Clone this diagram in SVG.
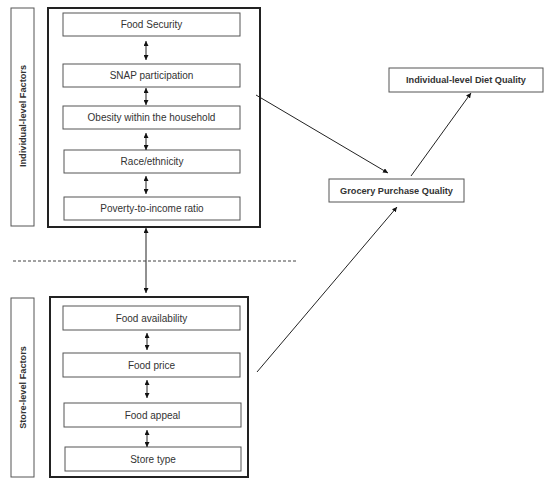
<svg xmlns="http://www.w3.org/2000/svg" width="550" height="487" viewBox="0 0 550 487">
<defs>
<marker id="ah" viewBox="0 0 10 10" refX="10" refY="5" markerWidth="5" markerHeight="5" orient="auto-start-reverse" markerUnits="userSpaceOnUse">
<path d="M0,0 L10,5 L0,10 z" fill="#111"/>
</marker>
<style>
.box{fill:#fff;stroke:#555;stroke-width:1}
.outer{fill:#fff;stroke:#222;stroke-width:2}
.t{font-family:"Liberation Sans",Arial,sans-serif;font-size:10px;fill:#333;text-anchor:middle;dominant-baseline:central}
.b{font-weight:bold;font-size:9.2px}
.c{stroke:#222;stroke-width:1;fill:none}
.dbl{marker-start:url(#ah);marker-end:url(#ah)}
.one{marker-end:url(#ah)}
</style>
</defs>
<rect width="550" height="487" fill="#fff"/>
<g id="individual-label"><rect class="box" x="11" y="8" width="23" height="218"/><text class="t b" transform="translate(22.5,116) rotate(-90)">Individual-level Factors</text></g>
<g id="individual-group"><rect class="outer" x="48" y="8" width="212" height="219"/></g>
<g id="food-security"><rect class="box" x="63" y="13" width="177" height="23"/><text class="t" x="151.5" y="24.5">Food Security</text></g>
<g id="snap"><rect class="box" x="63" y="64" width="177" height="23"/><text class="t" x="151.5" y="75.5">SNAP participation</text></g>
<g id="obesity"><rect class="box" x="63" y="106" width="177" height="23"/><text class="t" x="151.5" y="117.5">Obesity within the household</text></g>
<g id="race"><rect class="box" x="64" y="150" width="176" height="23"/><text class="t" x="152" y="161.5">Race/ethnicity</text></g>
<g id="poverty"><rect class="box" x="64" y="197" width="176" height="23"/><text class="t" x="152" y="208.5">Poverty-to-income ratio</text></g>
<g id="store-label"><rect class="box" x="11" y="298" width="23" height="179"/><text class="t b" transform="translate(22.5,387.5) rotate(-90)">Store-level Factors</text></g>
<g id="store-group"><rect class="outer" x="50" y="297" width="198" height="180"/></g>
<g id="food-availability"><rect class="box" x="63" y="306" width="177" height="24"/><text class="t" x="151.5" y="318">Food availability</text></g>
<g id="food-price"><rect class="box" x="63" y="353" width="177" height="24"/><text class="t" x="151.5" y="365">Food price</text></g>
<g id="food-appeal"><rect class="box" x="64" y="403" width="177" height="24"/><text class="t" x="152.5" y="415">Food appeal</text></g>
<g id="store-type"><rect class="box" x="65" y="447" width="176" height="24"/><text class="t" x="153" y="459">Store type</text></g>
<g id="grocery"><rect class="box" x="329" y="179" width="135" height="23"/><text class="t b" x="396.5" y="190.5">Grocery Purchase Quality</text></g>
<g id="diet"><rect class="box" x="389" y="68" width="154" height="24"/><text class="t b" x="466" y="80">Individual-level Diet Quality</text></g>
<g id="connectors">
<line class="c dbl" x1="146" y1="41" x2="146" y2="60"/>
<line class="c dbl" x1="146" y1="88" x2="146" y2="105"/>
<line class="c dbl" x1="146" y1="133" x2="146" y2="150"/>
<line class="c dbl" x1="146" y1="176" x2="146" y2="194"/>
<line class="c dbl" x1="146" y1="228" x2="146" y2="293"/>
<line class="c dbl" x1="147" y1="333" x2="147" y2="350"/>
<line class="c dbl" x1="147" y1="380" x2="147" y2="398"/>
<line class="c dbl" x1="147" y1="430" x2="147" y2="447"/>
<line x1="13" y1="261" x2="297" y2="261" stroke="#444" stroke-width="1" stroke-dasharray="3,2"/>
<line class="c one" x1="256" y1="95" x2="388" y2="173"/>
<line class="c one" x1="411" y1="176" x2="471" y2="93"/>
<line class="c one" x1="257" y1="372" x2="397" y2="207"/>
</g>
</svg>
